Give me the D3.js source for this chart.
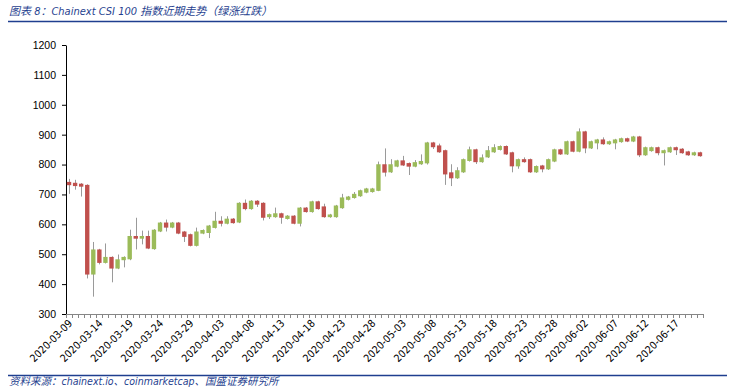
<!DOCTYPE html>
<html>
<head>
<meta charset="utf-8">
<script src="https://cdn.jsdelivr.net/npm/d3@7"></script>
<style>
  body { margin: 0; background: #fff; }
  svg { display: block; }
</style>
</head>
<body>
<div id="chart"></div>
<script>
// daily candles, 2020-03-09 .. 2020-06-21
var firstDay = "2020-03-09", lastDay = "2020-06-21";
var opens = [742,739,736,732,432,516,471,491,452,480,483,561,552,561,517,576,606,589,606,576,
  567,528,569,571,588,612,602,619,606,672,651,679,672,624,624,637,618,629,602,656,
  641,677,660,624,624,654,682,688,694,706,708,712,801,774,793,814,805,793,801,804,
  874,864,848,774,754,774,812,851,808,824,841,849,862,841,794,818,818,774,797,784,
  810,851,834,878,843,911,854,871,884,868,871,875,888,877,894,831,845,858,838,841,
  858,853,844,831,841];
var highs = [752,749,738,734,541,518,536,493,499,493,582,622,579,579,584,608,616,608,608,578,
  569,589,583,598,642,627,627,621,674,683,681,681,674,636,656,639,631,631,658,658,
  679,679,669,635,665,702,695,708,716,722,722,810,854,818,816,829,807,815,834,876,
  876,870,850,801,791,820,860,853,834,862,868,864,864,843,820,824,820,797,799,820,
  853,853,880,880,921,913,880,886,891,880,886,890,890,896,896,860,860,860,850,860,
  860,855,846,843,843];
var lows = [702,716,693,419,358,466,469,406,450,456,480,516,533,517,515,574,576,587,567,541,
  526,526,567,554,586,593,600,602,604,647,649,658,613,618,622,602,616,600,593,639,
  639,649,622,622,622,652,680,686,692,704,706,711,760,772,791,795,765,791,799,800,
  852,839,732,728,752,772,810,802,806,822,839,847,832,774,786,806,772,772,774,782,
  808,832,832,841,841,838,852,851,866,866,851,873,875,875,825,829,843,831,797,839,
  832,836,829,829,826];
var closes = [731,728,726,432,516,471,491,452,483,491,561,552,561,519,582,606,589,606,569,558,
  528,576,581,596,612,602,619,604,672,651,679,666,622,634,637,622,629,602,656,641,
  677,651,624,633,663,690,693,702,714,720,720,801,773,801,814,797,793,808,812,874,
  858,841,767,754,781,818,851,808,824,848,858,862,834,794,818,808,774,795,784,818,
  851,834,878,843,911,854,878,884,868,878,884,888,877,894,831,858,858,838,848,858,
  848,838,831,841,828];
var yTicks = [300,400,500,600,700,800,900,1000,1100,1200];
var labelEvery = 5;

var title = "图表 8：Chainext CSI 100 指数近期走势（绿涨红跌）";
var source = "资料来源：chainext.io、coinmarketcap、国盛证券研究所";

var width = 735, height = 387;
var plotL = 66, plotR = 703, plotT = 45, plotB = 314;
var upColor = "#9BBB59", downColor = "#C0504D", wickColor = "#9a9a9a";
var blue = "#1F3F8F";

var fmt = d3.timeFormat("%Y-%m-%d");
var parse = d3.timeParse("%Y-%m-%d");
var days = d3.timeDay.range(parse(firstDay), d3.timeDay.offset(parse(lastDay), 1)).map(fmt);

var data = days.map(function(d, i){
  return {date: d, o: opens[i], h: highs[i], l: lows[i], c: closes[i]};
});

var svg = d3.select("#chart").append("svg")
  .attr("width", width)
  .attr("height", height)
  .style("font-family", "'DejaVu Sans Condensed', 'DejaVu Sans', sans-serif");

// header + footer
svg.append("text")
  .attr("x", 9).attr("y", 15)
  .attr("fill", blue)
  .style("font-size", "11px")
  .style("font-style", "italic")
  .style("font-family", "'DejaVu Sans Condensed', 'Noto Sans CJK SC', sans-serif")
  .text(title);
svg.append("line")
  .attr("x1", 8).attr("x2", 727).attr("y1", 21.5).attr("y2", 21.5)
  .attr("stroke", blue).attr("stroke-width", 1.3);
svg.append("line")
  .attr("x1", 8).attr("x2", 727).attr("y1", 375.5).attr("y2", 375.5)
  .attr("stroke", blue).attr("stroke-width", 1.3);
svg.append("text")
  .attr("x", 9).attr("y", 385)
  .attr("fill", blue)
  .style("font-size", "10.5px")
  .style("font-style", "italic")
  .style("font-family", "'DejaVu Sans Condensed', 'Noto Sans CJK SC', sans-serif")
  .text(source);

var x = d3.scaleBand().domain(days).range([plotL, plotR]).padding(0);
var y = d3.scaleLinear().domain([300, 1200]).range([plotB, plotT]);

// y axis
var yAxis = svg.append("g")
  .attr("transform", "translate(" + plotL + ",0)")
  .call(d3.axisLeft(y).tickValues(yTicks).tickFormat(d3.format("d"))
    .tickSize(4).tickPadding(6).tickSizeOuter(0));
yAxis.select(".domain").attr("stroke", "#000");
yAxis.selectAll(".tick line").attr("stroke", "#000");
yAxis.selectAll("text").style("font-size", "10.5px").attr("fill", "#000");

// x axis: line, ticks between categories, labels every 5th day
var xg = svg.append("g");
xg.append("line")
  .attr("x1", plotL).attr("x2", plotR)
  .attr("y1", plotB + 0.5).attr("y2", plotB + 0.5)
  .attr("stroke", "#868686");
xg.selectAll(".xt")
  .data(days.concat(["end"]))
  .enter().append("line")
  .attr("x1", function(d){ return Math.round(d === "end" ? plotR : x(d)) + 0.5; })
  .attr("x2", function(d){ return Math.round(d === "end" ? plotR : x(d)) + 0.5; })
  .attr("y1", plotB).attr("y2", plotB + 4)
  .attr("stroke", "#868686");
xg.selectAll(".xl")
  .data(days.filter(function(d, i){ return i % labelEvery === 0; }))
  .enter().append("text")
  .attr("transform", function(d){
    return "translate(" + (x(d) + x.bandwidth() / 2 + 4) + "," + (plotB + 10) + ") rotate(-45)";
  })
  .attr("text-anchor", "end")
  .style("font-size", "10.5px")
  .attr("fill", "#000")
  .text(function(d){ return d; });

// candles
var bw = x.bandwidth() * 0.72;
var candles = svg.append("g").selectAll("g")
  .data(data)
  .enter().append("g");

candles.append("line")
  .attr("x1", function(d){ return Math.round(x(d.date) + x.bandwidth() / 2) + 0.5; })
  .attr("x2", function(d){ return Math.round(x(d.date) + x.bandwidth() / 2) + 0.5; })
  .attr("y1", function(d){ return y(d.h); })
  .attr("y2", function(d){ return y(d.l); })
  .attr("stroke", wickColor)
  .attr("stroke-width", 1);

candles.append("rect")
  .attr("x", function(d){ return x(d.date) + (x.bandwidth() - bw) / 2; })
  .attr("width", bw)
  .attr("y", function(d){ return y(Math.max(d.o, d.c)); })
  .attr("height", function(d){ return Math.max(2, Math.abs(y(d.o) - y(d.c))); })
  .attr("fill", function(d){ return d.c >= d.o ? upColor : downColor; });
</script>
</body>
</html>
